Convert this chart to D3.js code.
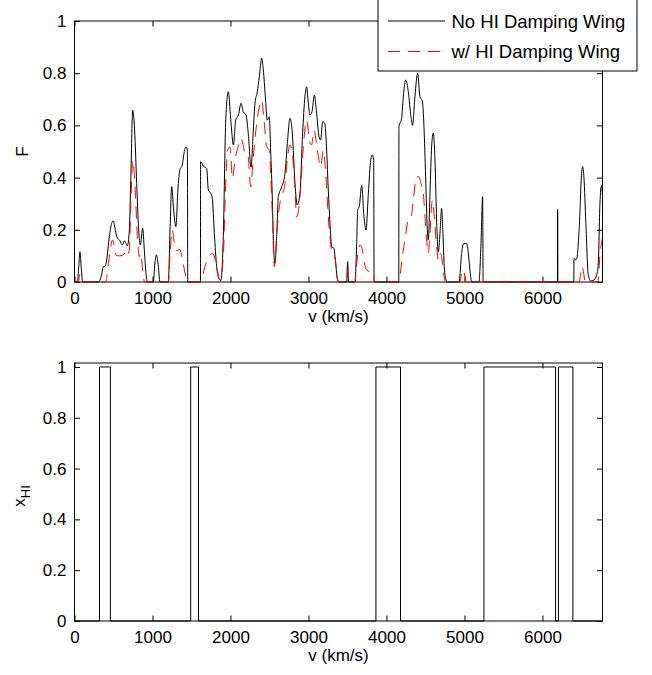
<!DOCTYPE html>
<html><head><meta charset="utf-8">
<script src="https://cdn.jsdelivr.net/npm/d3@7"></script>
<style>body{margin:0;background:#fff}svg{display:block}text{font-family:"Liberation Sans",Arial,Helvetica,sans-serif;fill:#000}</style>
</head><body>
<script>
// ---- data ----
const vMax = 6770;
const xTicks = [0,1000,2000,3000,4000,5000,6000];
const yTicksTop = [0,0.2,0.4,0.6,0.8,1];
const yTicksBot = [0,0.2,0.4,0.6,0.8,1];
const seriesNames = ["No HI Damping Wing","w/ HI Damping Wing"];

const vNo = [0,36,55,70,85,105,306,348,370,391,412,447,477,498,519,541,583,613,639,660,677,703,724,746,771,797,823,844,874,895,917,934,
1011,1030,1050,1070,1096,1203,1225,1246,1270,1300,1325,1352,1382,1408,1430,1447,1450,1452,
1615,1617,1652,1695,1716,1746,1767,1793,1823,1853,1878,1908,1938,1972,2007,2037,2067,2102,2136,2164,2199,2229,2263,2293,2314,2344,2370,2400,2421,2447,2472,2498,2515,2537,2554,2571,2592,2614,2657,2699,2729,2763,2793,2827,2857,2891,2925,2955,2976,2998,3019,3045,3075,3105,3135,3156,3182,3208,3233,3254,3276,3297,3327,3348,3374,3391,
3490,3502,3515,3596,3618,3631,3652,3682,3712,3738,3768,3798,3819,3836,3839,3841,
4158,4160,4194,4220,4246,4280,4314,4335,4365,4400,4429,4459,4481,4502,4524,4537,4558,4579,4600,4622,4643,4665,4686,4707,4724,4741,4763,4780,
4930,4964,4985,5028,5050,5075,5092,5186,5212,5233,5236,5239,
6192,6194,6196,6198,6402,6405,6426,6440,6472,6502,6515,6532,6557,6587,6617,6652,6694,6716,6737,6757,6770];
const fNo = [0,0,0.06,0.116,0.06,0,0,0.027,0.059,0.06,0.084,0.174,0.225,0.234,0.206,0.174,0.158,0.142,0.158,0.148,0.138,0.199,0.42,0.659,0.582,0.378,0.199,0.142,0.206,0.123,0.032,0,
0,0.07,0.104,0.075,0,0,0.2,0.365,0.28,0.212,0.35,0.43,0.448,0.5,0.518,0.505,0.3,0,
0,0.461,0.444,0.435,0.352,0.34,0.32,0.186,0.059,0.013,0.006,0.174,0.608,0.729,0.608,0.525,0.62,0.64,0.685,0.652,0.64,0.565,0.44,0.582,0.685,0.729,0.787,0.857,0.813,0.71,0.62,0.633,0.506,0.314,0.123,0.072,0.174,0.327,0.365,0.416,0.531,0.627,0.57,0.378,0.295,0.34,0.57,0.71,0.748,0.685,0.64,0.652,0.716,0.646,0.557,0.544,0.614,0.608,0.506,0.352,0.225,0.135,0.129,0.072,0.008,0,
0,0.078,0,0,0.148,0.276,0.29,0.37,0.25,0.199,0.34,0.467,0.487,0.467,0.2,0,
0,0.595,0.627,0.723,0.774,0.729,0.633,0.6,0.71,0.8,0.71,0.694,0.595,0.403,0.2,0.161,0.34,0.518,0.571,0.467,0.238,0.116,0.186,0.282,0.186,0.059,0.008,0,
0,0.11,0.146,0.148,0.11,0.032,0,0,0.148,0.327,0.2,0,
0,0.278,0.278,0,0,0.09,0.085,0.09,0.21,0.415,0.442,0.40,0.224,0.03,0.004,0.006,0.026,0.07,0.30,0.37,0.33];

const vDW = [0,50,70,90,400,434,464,489,511,532,575,617,647,669,703,724,746,776,806,831,848,883,900,
1203,1225,1250,1291,1310,1352,1380,1420,1440,
1617,1630,1673,1716,1760,1790,1822,1865,1908,1929,1963,1993,2025,2057,2100,2134,2156,2199,2225,2259,2293,2336,2370,2400,2430,2464,2498,2520,2541,2562,2592,2627,2657,2699,2733,2763,2797,2827,2849,2891,2934,2976,3019,3040,3071,3114,3156,3190,3224,3254,3289,3318,3340,3374,3391,
3490,3500,3512,3596,3618,3661,3691,3717,3746,3789,3836,3840,
4158,4203,4237,4280,4314,4344,4386,4417,4442,4472,4494,4515,4537,4558,4588,4613,4643,4665,4690,4707,4733,4758,
4940,4964,4985,5006,5028,6470,6490,6510,6530,6550,6710,6737,6757,6770];
const fDW = [0,0,0.03,0,0,0.07,0.135,0.161,0.135,0.103,0.10,0.103,0.11,0.097,0.123,0.314,0.467,0.365,0.174,0.097,0.11,0.02,0,
0,0.1,0.2,0.13,0.12,0.125,0.09,0.03,0,
0,0.008,0.06,0.09,0.11,0.10,0.06,0.008,0.097,0.29,0.505,0.518,0.397,0.467,0.52,0.55,0.533,0.48,0.48,0.365,0.48,0.608,0.672,0.697,0.62,0.518,0.505,0.378,0.225,0.059,0.174,0.289,0.327,0.378,0.48,0.525,0.48,0.352,0.25,0.327,0.518,0.62,0.533,0.525,0.582,0.505,0.442,0.505,0.403,0.25,0.135,0.102,0.095,0.008,0,
0,0.045,0,0,0.072,0.142,0.123,0.072,0.046,0.04,0.04,0,
0,0.097,0.161,0.238,0.244,0.314,0.403,0.403,0.378,0.34,0.25,0.161,0.11,0.186,0.314,0.25,0.136,0.084,0.11,0.097,0.032,0,
0,0.032,0.047,0.02,0,0,0.03,0.06,0.03,0,0,0.1,0.15,0.17];

const vHI = [0,320,460,1490,1590,3865,4180,5250,6168,6205,6390,6770];
const xHI = [0,1,0,1,0,1,0,1,0,1,0,0];

// ---- drawing ----
const W=652,H=675;
const svg=d3.select("body").append("svg").attr("width",W).attr("height",H);
svg.append("rect").attr("width",W).attr("height",H).attr("fill","#fff");
const FS=17;
const left=74.5,right=602.5;
const DASH="12,8";

function panel(top,bottom,yMax,yTicks,clipId){
  const x=d3.scaleLinear().domain([0,vMax]).range([left,right]);
  const y=d3.scaleLinear().domain([0,yMax]).range([bottom,top]);
  const g=svg.append("g");
  const fmt=d=>String(d);
  const ax=(gen,tr)=>{const a=g.append("g").attr("transform",tr).call(gen);
    a.select(".domain").remove(); a.selectAll("line").attr("stroke","#000");
    a.selectAll("text").style("font-size",FS+"px").attr("fill","#000"); return a;};
  ax(d3.axisBottom(x).tickValues(xTicks).tickSizeInner(-5.5).tickSizeOuter(0).tickPadding(10).tickFormat(fmt),`translate(0,${bottom})`);
  ax(d3.axisTop(x).tickValues(xTicks).tickSizeInner(-5.5).tickSizeOuter(0).tickFormat(""),`translate(0,${top})`);
  ax(d3.axisLeft(y).tickValues(yTicks).tickSizeInner(-5.5).tickSizeOuter(0).tickPadding(8).tickFormat(fmt),`translate(${left},0)`);
  ax(d3.axisRight(y).tickValues(yTicks).tickSizeInner(-5.5).tickSizeOuter(0).tickFormat(""),`translate(${right},0)`);
  g.append("rect").attr("x",left).attr("y",top).attr("width",right-left).attr("height",bottom-top)
    .attr("fill","none").attr("stroke","#000").attr("stroke-width",1);
  svg.append("clipPath").attr("id",clipId).append("rect").attr("x",left).attr("y",top-1).attr("width",right-left).attr("height",bottom-top+2);
  return {x,y,g};
}

// top panel
const P1=panel(21,282,1,yTicksTop,"c1");
const lineF=d3.line().x(d=>P1.x(d[0])).y(d=>P1.y(d[1])).curve(d3.curveMonotoneX);
svg.append("path").datum(vNo.map((v,i)=>[v,fNo[i]])).attr("d",lineF).attr("clip-path","url(#c1)")
  .attr("fill","none").attr("stroke","#000").attr("stroke-width",1);
svg.append("path").datum(vDW.map((v,i)=>[v,fDW[i]])).attr("d",lineF).attr("clip-path","url(#c1)")
  .attr("fill","none").attr("stroke","#ff0000").attr("stroke-width",1).attr("stroke-dasharray",DASH);
svg.append("text").attr("x",(left+right)/2).attr("y",322).attr("text-anchor","middle").style("font-size",FS+"px").text("v (km/s)");
svg.append("text").attr("transform","translate(28,151.5) rotate(-90)").attr("text-anchor","middle").style("font-size",FS+"px").text("F");

// bottom panel
const P2=panel(363,621,1.0157,yTicksBot,"c2");
const lineX=d3.line().x(d=>P2.x(d[0])).y(d=>P2.y(d[1])).curve(d3.curveStepAfter);
svg.append("path").datum(vHI.map((v,i)=>[v,xHI[i]])).attr("d",lineX).attr("clip-path","url(#c2)")
  .attr("fill","none").attr("stroke","#000").attr("stroke-width",1);
svg.append("text").attr("x",(left+right)/2).attr("y",661).attr("text-anchor","middle").style("font-size",FS+"px").text("v (km/s)");
const yl=svg.append("text").attr("transform","translate(25,496) rotate(-90)").attr("text-anchor","middle").style("font-size",FS+"px");
yl.append("tspan").text("x");
yl.append("tspan").attr("dy",5).style("font-size","13px").text("HI");

// legend
const lg=svg.append("g");
lg.append("rect").attr("x",378).attr("y",-1).attr("width",259).attr("height",72).attr("fill","#fff").attr("stroke","#000").attr("stroke-width",1);
const LFS=18.5;
lg.append("line").attr("x1",388).attr("x2",445).attr("y1",21).attr("y2",21).attr("stroke","#000").attr("stroke-width",1);
lg.append("text").attr("x",451.5).attr("y",28.3).style("font-size",LFS+"px").text(seriesNames[0]);
lg.append("line").attr("x1",388).attr("x2",445).attr("y1",51.5).attr("y2",51.5).attr("stroke","#ff0000").attr("stroke-width",1).attr("stroke-dasharray",DASH);
lg.append("text").attr("x",451.5).attr("y",58.3).style("font-size",LFS+"px").text(seriesNames[1]);
</script>
</body></html>
